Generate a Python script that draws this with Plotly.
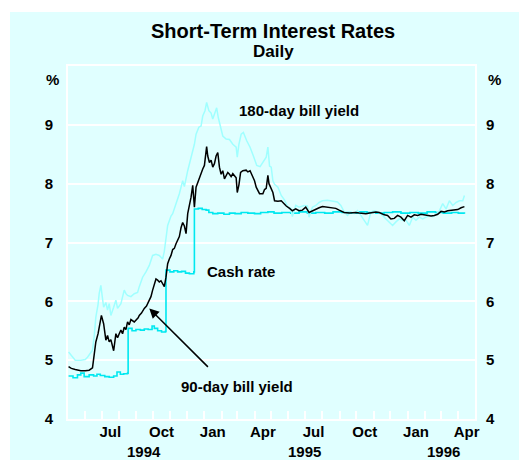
import plotly.graph_objects as go

# ---------------- data ----------------
cash_dates = ["1994-05-02","1994-05-10","1994-05-18","1994-05-24","1994-05-30","1994-06-08",
              "1994-06-16","1994-06-22","1994-06-28","1994-07-06","1994-07-14","1994-07-22",
              "1994-07-28","1994-08-03","1994-08-09","1994-08-16","1994-08-17","1994-08-24",
              "1994-08-31","1994-09-08","1994-09-15","1994-09-22","1994-09-29","1994-10-03",
              "1994-10-09","1994-10-16","1994-10-23","1994-10-24","1994-10-31","1994-11-07",
              "1994-11-14","1994-11-21","1994-11-28","1994-12-05","1994-12-13","1994-12-14",
              "1994-12-21","1994-12-28","1995-01-04","1995-01-09","1995-01-16","1995-01-25",
              "1995-02-05","1995-02-15","1995-02-25","1995-03-08","1995-03-20","1995-04-01",
              "1995-04-12","1995-04-25","1995-05-06","1995-05-20","1995-06-05","1995-06-20",
              "1995-07-05","1995-07-20","1995-08-05","1995-08-20","1995-09-05","1995-09-20",
              "1995-10-05","1995-10-20","1995-11-05","1995-11-20","1995-12-05","1995-12-20",
              "1996-01-05","1996-01-20","1996-02-05","1996-02-20","1996-03-05","1996-03-20",
              "1996-04-01","1996-04-12"]
cash_vals = [4.73,4.70,4.75,4.78,4.72,4.75,
             4.73,4.76,4.74,4.72,4.71,4.73,
             4.80,4.76,4.77,4.78,5.54,5.50,
             5.52,5.51,5.53,5.52,5.58,5.54,
             5.50,5.48,5.49,6.53,6.50,6.52,
             6.50,6.51,6.48,6.47,6.50,7.57,
             7.58,7.56,7.55,7.51,7.49,7.50,
             7.48,7.50,7.49,7.51,7.50,7.49,
             7.51,7.52,7.50,7.51,7.50,7.52,
             7.50,7.51,7.50,7.52,7.51,7.50,
             7.52,7.51,7.50,7.51,7.52,7.50,
             7.51,7.50,7.52,7.51,7.50,7.51,
             7.50,7.49]

bill90_dates = ["1994-05-02","1994-05-07","1994-05-14","1994-05-24","1994-06-01","1994-06-08",
                "1994-06-14","1994-06-16","1994-06-20","1994-06-24","1994-06-27","1994-06-30",
                "1994-07-04","1994-07-08","1994-07-11","1994-07-14","1994-07-17","1994-07-20",
                "1994-07-22","1994-07-26","1994-07-29","1994-08-01","1994-08-04","1994-08-07",
                "1994-08-10","1994-08-13","1994-08-16","1994-08-19","1994-08-22","1994-08-28",
                "1994-09-04","1994-09-06","1994-09-10","1994-09-15","1994-09-19","1994-09-24",
                "1994-09-27","1994-09-30","1994-10-03","1994-10-06","1994-10-09","1994-10-12",
                "1994-10-15","1994-10-18","1994-10-21","1994-10-24","1994-10-27","1994-10-30",
                "1994-11-02","1994-11-05","1994-11-08","1994-11-11","1994-11-14","1994-11-17",
                "1994-11-20","1994-11-23","1994-11-26","1994-11-29","1994-12-02","1994-12-05",
                "1994-12-08","1994-12-11","1994-12-14","1994-12-17","1994-12-22","1994-12-26",
                "1994-12-29","1995-01-01","1995-01-04","1995-01-05","1995-01-07","1995-01-10",
                "1995-01-13","1995-01-16","1995-01-19","1995-01-22","1995-01-25","1995-01-28",
                "1995-01-31","1995-02-03","1995-02-06","1995-02-09","1995-02-12","1995-02-15",
                "1995-02-18","1995-02-21","1995-02-24","1995-02-27","1995-03-01","1995-03-04",
                "1995-03-07","1995-03-11","1995-03-17","1995-03-20","1995-03-24","1995-03-29",
                "1995-04-01","1995-04-04","1995-04-07","1995-04-10","1995-04-16","1995-04-19",
                "1995-04-22","1995-04-25","1995-04-27","1995-05-01","1995-05-04","1995-05-07",
                "1995-05-13","1995-05-19","1995-05-22","1995-05-28","1995-06-03","1995-06-08",
                "1995-06-14","1995-06-20","1995-06-26","1995-07-02","1995-07-08","1995-07-14",
                "1995-07-20","1995-07-26","1995-08-01","1995-08-07","1995-08-13","1995-08-19",
                "1995-08-25","1995-08-31","1995-09-09","1995-09-18","1995-09-24","1995-09-30",
                "1995-10-06","1995-10-18","1995-10-30","1995-11-05","1995-11-11","1995-11-20",
                "1995-11-26","1995-12-02","1995-12-08","1995-12-14","1995-12-20","1995-12-26",
                "1996-01-01","1996-01-07","1996-01-13","1996-01-19","1996-01-25","1996-01-31",
                "1996-02-06","1996-02-12","1996-02-18","1996-02-24","1996-03-01","1996-03-07",
                "1996-03-13","1996-03-19","1996-03-25","1996-03-31","1996-04-06","1996-04-12"]
bill90_vals = [4.89,4.86,4.84,4.82,4.82,4.83,
               4.87,5.00,5.31,5.45,5.60,5.76,
               5.62,5.34,5.42,5.31,5.35,5.20,
               5.16,5.45,5.38,5.45,5.51,5.45,
               5.56,5.52,5.65,5.60,5.69,5.65,
               5.72,5.76,5.80,5.88,5.92,6.02,
               6.08,6.19,6.30,6.38,6.36,6.33,
               6.35,6.30,6.25,6.41,6.64,6.72,
               6.78,6.88,6.90,6.98,7.04,7.10,
               7.25,7.34,7.28,7.15,7.49,7.62,
               7.77,7.97,7.60,7.94,8.08,8.16,
               8.25,8.31,8.55,8.63,8.47,8.36,
               8.40,8.28,8.34,8.47,8.53,8.28,
               8.16,8.22,8.08,8.14,8.19,8.16,
               8.12,8.17,8.14,8.10,7.85,7.98,
               8.19,8.22,8.23,8.20,8.22,8.11,
               8.05,7.94,7.88,7.83,7.83,7.90,
               7.92,8.14,8.00,7.91,7.85,7.71,
               7.70,7.71,7.68,7.62,7.58,7.54,
               7.57,7.54,7.55,7.60,7.51,7.54,
               7.57,7.59,7.61,7.60,7.60,7.59,
               7.58,7.55,7.51,7.50,7.51,7.51,
               7.50,7.49,7.51,7.52,7.51,7.47,
               7.46,7.40,7.41,7.46,7.43,7.37,
               7.46,7.43,7.47,7.46,7.48,7.47,
               7.46,7.45,7.46,7.48,7.53,7.52,
               7.54,7.55,7.55,7.56,7.59,7.61]

bill180_dates = ["1994-05-02","1994-05-07","1994-05-14","1994-05-24","1994-06-01","1994-06-05",
                 "1994-06-14","1994-06-17","1994-06-20","1994-06-24","1994-06-26","1994-06-29",
                 "1994-07-04","1994-07-08","1994-07-11","1994-07-14","1994-07-17","1994-07-22",
                 "1994-07-26","1994-07-29","1994-08-04","1994-08-10","1994-08-13","1994-08-16",
                 "1994-08-22","1994-08-28","1994-09-03","1994-09-06","1994-09-12","1994-09-18",
                 "1994-09-24","1994-09-30","1994-10-06","1994-10-12","1994-10-18","1994-10-21",
                 "1994-10-24","1994-10-27","1994-10-30","1994-11-02","1994-11-05","1994-11-11",
                 "1994-11-17","1994-11-23","1994-11-26","1994-12-02","1994-12-08","1994-12-14",
                 "1994-12-17","1994-12-22","1994-12-26","1994-12-29","1995-01-02","1995-01-05",
                 "1995-01-09","1995-01-13","1995-01-16","1995-01-19","1995-01-23","1995-01-26",
                 "1995-01-30","1995-02-03","1995-02-09","1995-02-15","1995-02-21","1995-02-27",
                 "1995-03-01","1995-03-04","1995-03-08","1995-03-12","1995-03-18","1995-03-24",
                 "1995-03-30","1995-04-05","1995-04-11","1995-04-17","1995-04-22","1995-04-25",
                 "1995-04-28","1995-05-01","1995-05-04","1995-05-07","1995-05-13","1995-05-19",
                 "1995-05-25","1995-05-31","1995-06-05","1995-06-08","1995-06-14","1995-06-20",
                 "1995-06-29","1995-07-05","1995-07-08","1995-07-14","1995-07-20","1995-07-26",
                 "1995-08-01","1995-08-10","1995-08-19","1995-08-28","1995-09-03","1995-09-09",
                 "1995-09-15","1995-09-21","1995-09-27","1995-10-03","1995-10-09","1995-10-15",
                 "1995-10-21","1995-10-27","1995-11-02","1995-11-08","1995-11-17","1995-11-23",
                 "1995-11-29","1995-12-05","1995-12-11","1995-12-17","1995-12-23","1995-12-29",
                 "1996-01-04","1996-01-10","1996-01-16","1996-01-22","1996-01-28","1996-02-03",
                 "1996-02-09","1996-02-15","1996-02-21","1996-02-27","1996-03-04","1996-03-10",
                 "1996-03-16","1996-03-22","1996-03-28","1996-04-03","1996-04-09","1996-04-12"]
bill180_vals = [5.14,5.08,5.00,5.00,5.01,5.05,
                5.17,5.40,5.73,5.95,6.13,6.27,
                5.90,5.98,5.85,5.96,5.76,5.90,
                6.02,5.88,5.96,6.19,6.13,6.10,
                6.08,6.13,6.15,6.25,6.41,6.50,
                6.61,6.78,6.80,6.78,6.72,6.85,
                7.03,7.29,7.37,7.45,7.49,7.66,
                7.83,8.05,7.95,8.22,8.45,8.67,
                8.84,8.96,8.98,9.15,9.24,9.38,
                9.24,9.20,9.10,9.20,9.29,9.12,
                8.96,8.81,8.76,8.75,8.67,8.62,
                8.45,8.67,8.84,8.87,8.73,8.62,
                8.47,8.31,8.29,8.37,8.45,8.62,
                8.30,8.28,8.05,7.99,7.94,7.80,
                7.72,7.60,7.58,7.44,7.63,7.60,
                7.63,7.62,7.43,7.60,7.63,7.68,
                7.71,7.72,7.71,7.69,7.63,7.52,
                7.46,7.52,7.49,7.54,7.46,7.37,
                7.29,7.52,7.54,7.52,7.46,7.40,
                7.34,7.29,7.35,7.40,7.38,7.38,
                7.29,7.43,7.38,7.43,7.40,7.43,
                7.46,7.44,7.48,7.54,7.66,7.57,
                7.71,7.63,7.68,7.71,7.71,7.80]

x_tick_vals = ["1994-07-16","1994-10-16","1995-01-16","1995-04-16",
               "1995-07-16","1995-10-16","1996-01-16","1996-04-16"]
x_tick_text = ["Jul","Oct","Jan","Apr","Jul","Oct","Jan","Apr"]
year_labels = ["1994","1995","1996"]
year_pos = ["1994-09-14","1995-06-29","1996-03-06"]
y_ticks = [4,5,6,7,8,9]
x_range = ["1994-05-01", "1996-05-01"]

# ---------------- styling ----------------
BG = "#E0FFFF"
FONT = "Arial, 'Liberation Sans', Helvetica, sans-serif"
C180 = "#A0FFFF"
CCASH = "#00E8F0"
C90 = "#000000"

fig = go.Figure()
fig.add_trace(go.Scatter(x=cash_dates, y=cash_vals, mode="lines", line=dict(color=CCASH, width=1.6),
                         name="Cash rate", line_shape="hv"))
fig.add_trace(go.Scatter(x=bill180_dates, y=bill180_vals, mode="lines", line=dict(color=C180, width=1.5),
                         name="180-day bill yield"))
fig.add_trace(go.Scatter(x=bill90_dates, y=bill90_vals, mode="lines", line=dict(color=C90, width=1.5),
                         name="90-day bill yield"))
# dummy traces to activate right axis and month-label axis
fig.add_trace(go.Scatter(x=[None], y=[None], yaxis="y2", showlegend=False, hoverinfo="skip"))
fig.add_trace(go.Scatter(x=[x_range[0]], y=[None], xaxis="x2", showlegend=False, hoverinfo="skip"))

L, R, T, B = 68, 44, 66, 41
W, H = 519, 460
PW, PH = W - L - R, H - T - B

def px(xp):
    return (xp - L) / PW

def py(yp):
    return (H - B - yp) / PH

tickfont = dict(family=FONT, size=15, color="black", weight="bold")

fig.update_layout(
    width=W, height=H,
    margin=dict(l=L, r=R, t=T, b=B, pad=0),
    paper_bgcolor="white",
    plot_bgcolor=BG,
    showlegend=False,
    font=dict(family=FONT, size=15, color="black"),
    xaxis=dict(
        type="date", range=x_range,
        tickmode="linear", tick0="1994-05-01", dtick="M1",
        ticks="inside", ticklen=8, tickwidth=1.5, tickcolor="white",
        showticklabels=False, showgrid=False, zeroline=False,
        showline=True, linecolor="white", linewidth=2, mirror=True,
    ),
    xaxis2=dict(
        type="date", range=x_range, overlaying="x", side="bottom", anchor="y",
        tickmode="array", tickvals=x_tick_vals, ticktext=x_tick_text,
        ticks="", showgrid=False, zeroline=False, showline=False,
        tickfont=tickfont, ticklabelstandoff=2,
    ),
    yaxis=dict(
        range=[4, 10], tickmode="array", tickvals=y_ticks,
        ticks="", showgrid=True, gridcolor="white", gridwidth=1.5, zeroline=False,
        showline=True, linecolor="white", linewidth=2, mirror=True,
        tickfont=tickfont, ticklabelstandoff=10,
    ),
    yaxis2=dict(
        range=[4, 10], tickmode="array", tickvals=y_ticks, overlaying="y", side="right",
        ticks="", showgrid=False, zeroline=False, showline=False,
        tickfont=tickfont, ticklabelstandoff=10,
    ),
)

# light cyan panel background (starts a little inside the page)
fig.add_shape(type="rect", xref="paper", yref="paper",
              x0=px(10), x1=px(W + 2), y0=py(H + 2), y1=py(12),
              fillcolor=BG, line=dict(width=0), layer="below")

anns = []
anns.append(dict(text="<b>Short-Term Interest Rates</b>", xref="paper", yref="paper",
                 x=px(273), y=py(31), showarrow=False, font=dict(size=20, family=FONT),
                 xanchor="center", yanchor="middle", borderpad=0))
anns.append(dict(text="<b>Daily</b>", xref="paper", yref="paper",
                 x=px(273), y=py(51), showarrow=False, font=dict(size=17, family=FONT),
                 xanchor="center", yanchor="middle", borderpad=0))
for xp in (52, 494):
    anns.append(dict(text="<b>%</b>", xref="paper", yref="paper", x=px(xp), y=py(79),
                     showarrow=False, font=dict(size=15, family=FONT),
                     xanchor="center", yanchor="middle"))
for lab, pos in zip(year_labels, year_pos):
    anns.append(dict(text="<b>" + lab + "</b>", xref="x", yref="paper", x=pos, y=py(451),
                     showarrow=False, font=dict(size=15, family=FONT),
                     xanchor="center", yanchor="middle", borderpad=0))
anns.append(dict(text="<b>180-day bill yield</b>", x="1995-06-20", y=9.25, xref="x", yref="y",
                 showarrow=False, font=dict(size=15, family=FONT), xanchor="center", yanchor="middle"))
anns.append(dict(text="<b>Cash rate</b>", x="1995-03-08", y=6.51, xref="x", yref="y",
                 showarrow=False, font=dict(size=15, family=FONT), xanchor="center", yanchor="middle"))
anns.append(dict(text="<b>90-day bill yield</b>", x="1995-02-28", y=4.56, xref="x", yref="y",
                 showarrow=False, font=dict(size=15, family=FONT), xanchor="center", yanchor="middle"))
anns.append(dict(text="", x="1994-09-24", y=5.88, xref="x", yref="y",
                 ax="1995-01-10", ay=4.86, axref="x", ayref="y",
                 showarrow=True, arrowhead=2, arrowsize=1.3, arrowwidth=1.5, arrowcolor="black"))
fig.update_layout(annotations=anns)

fig.write_html("out.html", config={"displayModeBar": False},
               post_script="document.body.style.margin='0';document.body.style.overflow='hidden';")
